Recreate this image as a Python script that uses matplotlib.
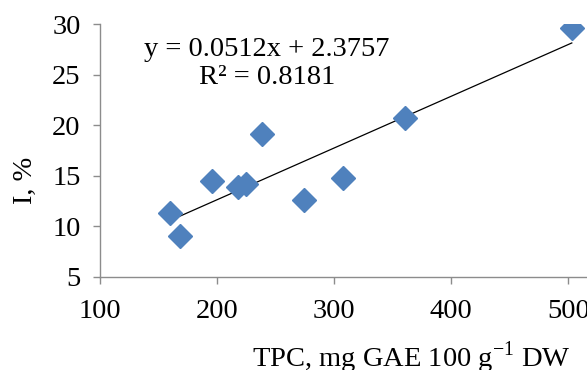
import matplotlib
matplotlib.use("Agg")
import matplotlib.pyplot as plt
import numpy as np

# TPC (mg GAE 100 g-1 DW) vs inhibition I (%)
tpc = [160.1, 168.4, 195.6, 218.0, 224.7, 238.1, 274.3, 307.2, 360.6, 502.9]
inhib = [11.3, 9.0, 14.5, 13.9, 14.2, 19.1, 12.6, 14.75, 20.7, 29.6]

# linear trend as reported on the chart
slope = 0.0512
intercept = 2.3757
r2 = 0.8181

x_ticks = [100, 200, 300, 400, 500]
y_ticks = [5, 10, 15, 20, 25, 30]

plt.rcParams['font.family'] = ['Liberation Serif', 'DejaVu Serif']
plt.rcParams['mathtext.fontset'] = 'custom'
plt.rcParams['mathtext.rm'] = 'Liberation Serif'
fs = 20.5
grey = '#8c8c8c'

fig = plt.figure(figsize=(5.87, 3.70), dpi=100)
ax = fig.add_axes([100 / 587, 93.3 / 370, 487 / 587, (346 - 93.3) / 370])

ax.plot(tpc, inhib, linestyle='none', marker='D', markersize=12,
        color='#4f81bd', markeredgecolor='#4f81bd', zorder=3)

xs = np.array([min(tpc), max(tpc)])
ax.plot(xs, slope * xs + intercept, color='black', linewidth=0.9, zorder=2)

ax.set_xlim(100, 100 + 487 / 1.171)
ax.set_ylim(5, 30)
ax.set_xticks(x_ticks)
ax.set_yticks(y_ticks)

for side in ['top', 'right']:
    ax.spines[side].set_visible(False)
for side in ['left', 'bottom']:
    ax.spines[side].set_color(grey)
    ax.spines[side].set_linewidth(1.0)
    ax.spines[side].set_clip_on(False)

ax.tick_params(axis='both', colors=grey, labelcolor='black', labelsize=fs,
               length=5, width=1, direction='out')
ax.tick_params(axis='x', pad=11)
ax.tick_params(axis='y', pad=9)

# equation block, placed in figure pixels
fig.text(267 / 587, 1 - 50 / 370, f'y = {slope}x + {intercept}',
         ha='center', va='center', fontsize=fs)
fig.text(267 / 587, 1 - 77 / 370, f'R² = {r2}',
         ha='center', va='center', fontsize=fs)

fig.text(411 / 587, 3 / 370, r'TPC, mg GAE 100 g$^{\mathrm{-1}}$ DW',
         ha='center', va='baseline', fontsize=fs)
fig.text(25 / 587, 1 - 180 / 370, 'I, %', ha='center', va='center',
         rotation=90, fontsize=fs)

fig.savefig('out.png', dpi=100)
